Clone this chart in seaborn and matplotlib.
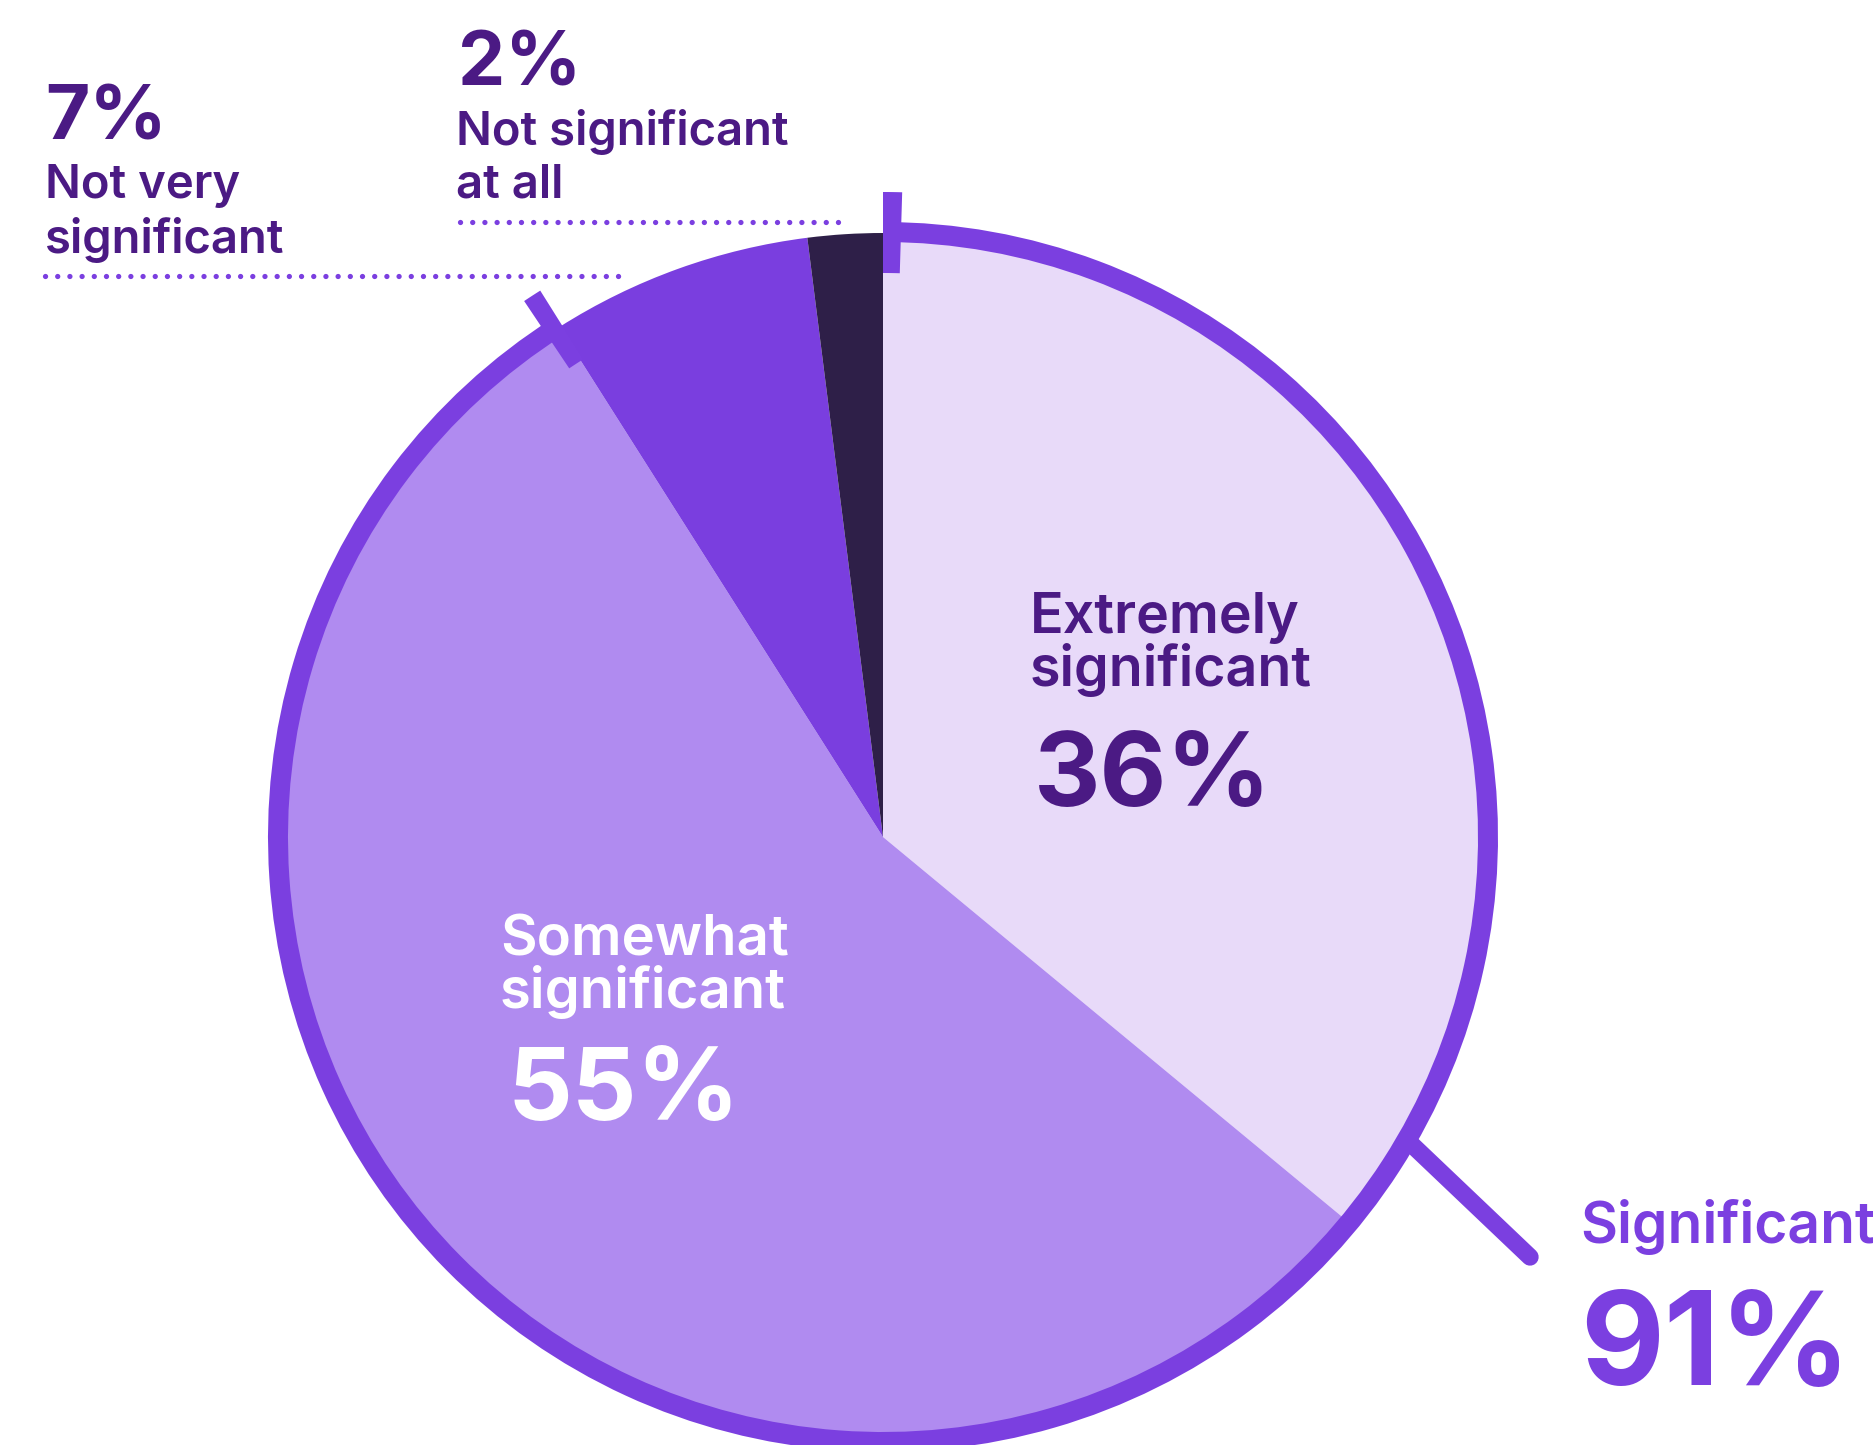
import matplotlib
matplotlib.use("Agg")
import matplotlib.pyplot as plt
from matplotlib.patches import Wedge
import seaborn as sns
import numpy as np

# ---- data ----
categories = ["Extremely significant", "Somewhat significant", "Not very significant", "Not significant at all"]
values = [36, 55, 7, 2]
slice_colors = ["#E8DAF9", "#B08BF0", "#7A3EDF", "#2E1F48"]
group_label = "Significant"
group_value = 91

sns.set_theme(style="white")
plt.rcParams['font.family'] = ['Inter', 'DejaVu Sans']

W, H = 1874, 1445
fig = plt.figure(figsize=(W / 100, H / 100), dpi=100)
ax = fig.add_axes([0, 0, 1, 1])

def Y(py):
    return H - py

cx, cy = 883, Y(837)
R = 604
ring_r = 605
ring_w = 20
ring_col = "#7B3FE0"
dark = "#4B1A84"

ax.pie(values, colors=slice_colors, startangle=90, counterclock=False,
       radius=R, center=(cx, cy), wedgeprops=dict(linewidth=0),
       frame=True)
ax.set_xlim(0, W)
ax.set_ylim(0, H)
ax.set_aspect('equal')
ax.axis('off')

# ring around the "significant" share
end_ang = 90 - group_value * 3.6
ax.add_patch(Wedge((cx, cy), ring_r + ring_w / 2, end_ang, 90, width=ring_w,
                   facecolor=ring_col, edgecolor='none', zorder=3))
# end ticks
dth = np.degrees(18 / ring_r)
ax.add_patch(Wedge((cx, cy), 645, 90 - dth, 90, width=81,
                   facecolor=ring_col, edgecolor='none', zorder=3))
ax.add_patch(Wedge((cx, cy), 645, end_ang + 360 - 0.3, end_ang + 360 - 0.3 + dth, width=81,
                   facecolor=ring_col, edgecolor='none', zorder=3))

# leader line to group label
ax.plot([1407, 1530], [Y(1140), Y(1257)], color=ring_col, lw=12.5,
        solid_capstyle='round', zorder=3)

# dotted underlines
ax.plot([45, 621], [Y(276), Y(276)], color=ring_col, lw=3.8,
        linestyle=(0, (0.01, 2.3)), dash_capstyle='round', zorder=3)
ax.plot([460, 843], [Y(222), Y(222)], color=ring_col, lw=3.8,
        linestyle=(0, (0.01, 2.3)), dash_capstyle='round', zorder=3)

def txt(x, y, s, size, color, weight):
    ax.text(x, Y(y), s, fontsize=size, color=color, fontweight=weight,
            ha='left', va='baseline', zorder=5)

# inside labels
txt(1030, 633, "Extremely", 40, dark, 'semibold')
txt(1030, 686, "significant", 40, dark, 'semibold')
txt(1034, 806, f"{values[0]}%", 74, dark, 'bold')

txt(500, 955, "Somewhat", 40.5, "white", 'semibold')
txt(500, 1008, "significant", 40.5, "white", 'semibold')
txt(507, 1120, f"{values[1]}%", 73, "white", 'bold')

# outside labels
txt(45, 140, f"{values[2]}%", 55, dark, 'bold')
txt(45, 198, "Not very", 34, dark, 'semibold')
txt(45, 253, "significant", 34, dark, 'semibold')

txt(458, 86, f"{values[3]}%", 54, dark, 'bold')
txt(456, 145, "Not significant", 34, dark, 'semibold')
txt(456, 198, "at all", 34, dark, 'semibold')

txt(1580, 1243, group_label, 41, ring_col, 'semibold')
txt(1580, 1385, f"{group_value}%", 93, ring_col, 'bold')

fig.savefig("out.png", dpi=100)
